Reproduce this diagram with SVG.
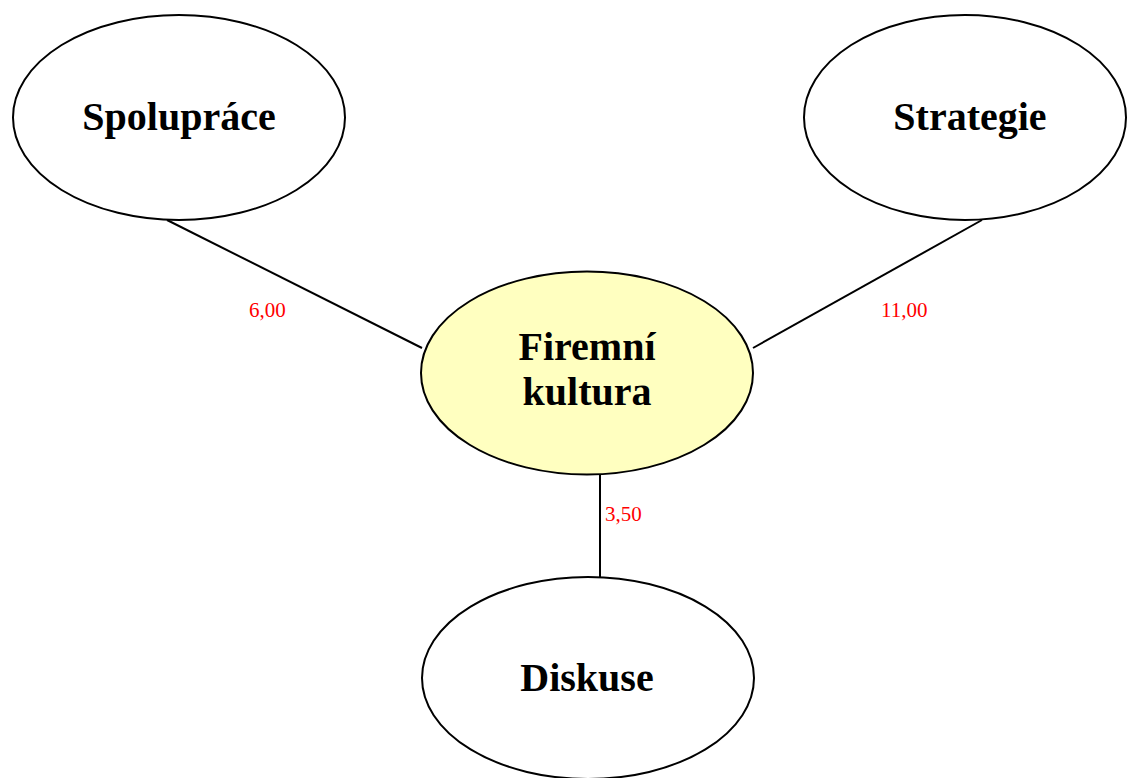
<svg xmlns="http://www.w3.org/2000/svg" width="1127" height="778" viewBox="0 0 1127 778">
  <style>
    .node { fill: #ffffff; stroke: #000000; stroke-width: 2; }
    .core { fill: #ffffc0; }
    .edge { stroke: #000000; stroke-width: 2; fill: none; }
    .title { font-family: "Liberation Serif", "Times New Roman", serif; font-weight: bold; font-size: 40px; text-anchor: middle; fill: #000000; }
    .weight { font-family: "Liberation Serif", "Times New Roman", serif; font-size: 21px; fill: #ff0000; }
  </style>
  <rect width="1127" height="778" fill="#ffffff"/>

  <!-- connectors with weights -->
  <g id="connectors">
    <line class="edge" x1="167" y1="220" x2="422" y2="348"/>
    <line class="edge" x1="982" y1="220" x2="753" y2="348"/>
    <line class="edge" x1="600" y1="474" x2="600" y2="577"/>
    <text class="weight" x="249" y="317">6,00</text>
    <text class="weight" x="881" y="317">11,00</text>
    <rect x="601" y="502" width="44" height="25" fill="#ffffff"/>
    <text class="weight" x="605" y="521">3,50</text>
  </g>

  <g id="spoluprace">
    <ellipse class="node" cx="179" cy="117.5" rx="166" ry="102.5"/>
    <text class="title" x="179" y="130">Spolupráce</text>
  </g>

  <g id="strategie">
    <ellipse class="node" cx="965" cy="117.5" rx="161" ry="102.5"/>
    <text class="title" x="970" y="130">Strategie</text>
  </g>

  <g id="firemni-kultura">
    <ellipse class="node core" cx="587" cy="373" rx="166" ry="101.5"/>
    <text class="title" x="587" y="360">Firemní</text>
    <text class="title" x="587" y="405">kultura</text>
  </g>

  <g id="diskuse">
    <ellipse class="node" cx="588" cy="678" rx="166" ry="101"/>
    <text class="title" x="587" y="691">Diskuse</text>
  </g>
</svg>
